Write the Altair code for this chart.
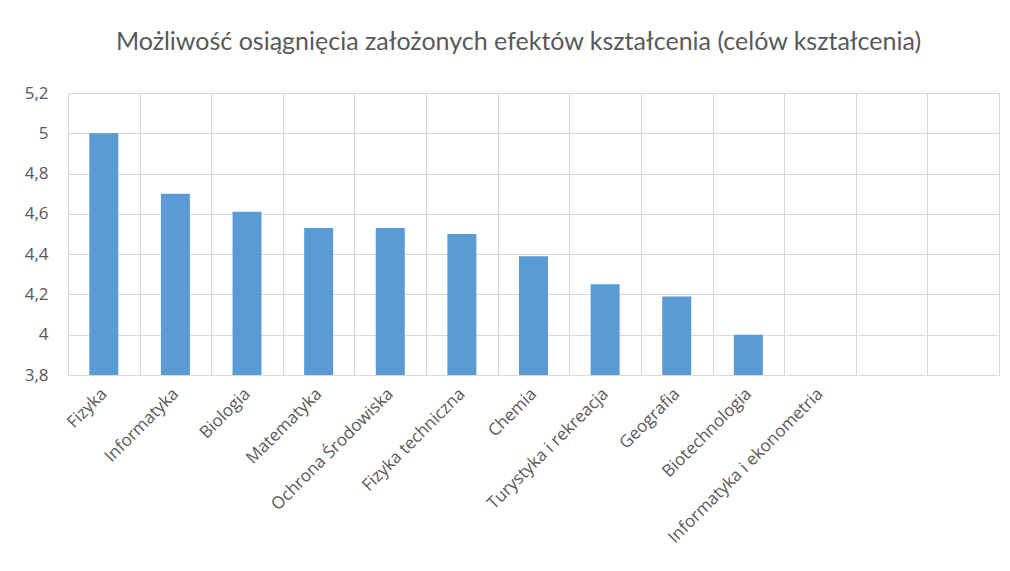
import altair as alt
import pandas as pd

categories = ["Fizyka", "Informatyka", "Biologia", "Matematyka", "Ochrona Środowiska",
              "Fizyka techniczna", "Chemia", "Turystyka i rekreacja", "Geografia",
              "Biotechnologia", "Informatyka i ekonometria", " ", "  "]
values = [5.0, 4.70, 4.61, 4.53, 4.53, 4.50, 4.39, 4.25, 4.19, 4.0, None, None, None]
y_ticks = [3.8, 4.0, 4.2, 4.4, 4.6, 4.8, 5.0, 5.2]

df = pd.DataFrame({"kierunek": categories, "ocena": values})

FONT = "Open Sans"
GRAY = "#595959"
GRID = "#d9d9d9"

x_enc = alt.X("kierunek:N", sort=categories, title=None,
              scale=alt.Scale(paddingInner=0, paddingOuter=0),
              axis=alt.Axis(labelAngle=-45, labelAlign="right", labelBaseline="middle",
                            labelPadding=16, labelFontSize=17, labelColor=GRAY, labelFont=FONT,
                            ticks=False, grid=True, tickBand="extent", gridColor=GRID,
                            domainColor=GRID, labelOverlap=False, labelLimit=300))
y_enc = alt.Y("ocena:Q", title=None,
              scale=alt.Scale(domain=[3.8, 5.2], nice=False, zero=False),
              axis=alt.Axis(values=y_ticks, grid=True, gridColor=GRID, domain=False, ticks=False,
                            labelPadding=20, labelFontSize=17, labelColor=GRAY, labelFont=FONT,
                            labelExpr="replace(toString(round(datum.value*10)/10), '.', ',')"))

bars = alt.Chart(df).mark_bar(width=alt.RelativeBandSize(0.405), color="#5B9BD5").encode(
    x=x_enc, y=y_enc, y2=alt.datum(3.8)
).transform_filter("isValid(datum.ocena)")

base = alt.Chart(df).mark_bar(opacity=0).encode(x=x_enc, y=y_enc)

chart = alt.layer(base, bars).properties(
    width=931, height=282,
    padding={"left": 60, "top": 85, "right": 3, "bottom": 190},
    autosize=alt.AutoSizeParams(type="none"),
    title=alt.TitleParams("Możliwość osiągnięcia założonych efektów kształcenia (celów kształcenia)",
                          font="Lato", fontSize=25, fontWeight="normal", color=GRAY,
                          anchor="middle", offset=29, dx=-15),
).configure_view(stroke=GRID, strokeWidth=1)

chart.save("out.html", embed_options={"renderer": "svg", "actions": False})
